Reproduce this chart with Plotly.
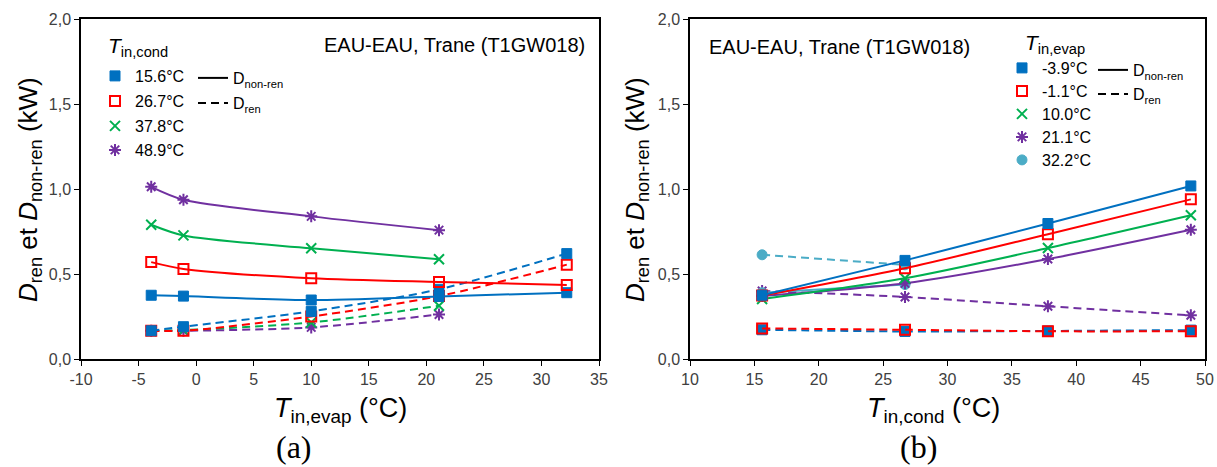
import plotly.graph_objects as go

# ---------------- data : panel (a) ----------------
t_evap = [-3.9, -1.1, 10.0, 21.1, 32.2]
cond_labels = ["15.6°C", "26.7°C", "37.8°C", "48.9°C"]
a_nonren_156 = [0.375, 0.37, 0.347, 0.368, 0.39]
a_ren_156 = [0.166, 0.19, 0.28, 0.41, 0.62]
a_nonren_267 = [0.57, 0.53, 0.475, 0.453, 0.436]
a_ren_267 = [0.166, 0.166, 0.25, 0.37, 0.555]
a_nonren_378 = [0.79, 0.727, 0.651, 0.587]
a_ren_378 = [0.166, 0.17, 0.215, 0.313]
a_nonren_489 = [1.013, 0.937, 0.839, 0.758]
a_ren_489 = [0.166, 0.166, 0.186, 0.262]

# ---------------- data : panel (b) ----------------
t_cond = [15.6, 26.7, 37.8, 48.9]
evap_labels = ["-3.9°C", "-1.1°C", "10.0°C", "21.1°C", "32.2°C"]
b_nonren_m39 = [0.375, 0.58, 0.797, 1.018]
b_ren_m39 = [0.172, 0.162, 0.165, 0.17]
b_nonren_m11 = [0.373, 0.534, 0.734, 0.939]
b_ren_m11 = [0.18, 0.172, 0.163, 0.163]
b_nonren_100 = [0.353, 0.475, 0.653, 0.846]
b_nonren_211 = [0.37, 0.445, 0.588, 0.76]
b_ren_211 = [0.40, 0.365, 0.31, 0.257]
b_nonren_322 = [0.39, 0.438]
b_ren_322 = [0.613, 0.554]

# tick labels
y_ticks = [0, 0.5, 1.0, 1.5, 2.0]
y_ticktext = ["0,0", "0,5", "1,0", "1,5", "2,0"]
xa_ticks = [-10, -5, 0, 5, 10, 15, 20, 25, 30, 35]
xb_ticks = [10, 15, 20, 25, 30, 35, 40, 45, 50]

BLUE, RED, GREEN, PURPLE, CYAN = "#0070C0", "#FF0000", "#00B050", "#7030A0", "#4BACC6"
W, H = 1217, 467

styles = {
    "blue": dict(color=BLUE, marker=dict(symbol="square", size=10, color=BLUE, line=dict(width=1, color=BLUE))),
    "red": dict(color=RED, marker=dict(symbol="square-open", size=10, color=RED, line=dict(width=2, color=RED))),
    "green": dict(color=GREEN, marker=dict(symbol="x-thin-open", size=10, color=GREEN, line=dict(width=2, color=GREEN))),
    "purple": dict(color=PURPLE, marker=dict(symbol="asterisk-open", size=10, color=PURPLE, line=dict(width=2, color=PURPLE))),
    "cyan": dict(color=CYAN, marker=dict(symbol="circle", size=10, color=CYAN, line=dict(width=1, color=CYAN))),
}

fig = go.Figure()


def add(x, y, key, dash, xa, ya):
    st = styles[key]
    fig.add_trace(go.Scatter(
        x=x, y=y, mode="lines+markers", xaxis=xa, yaxis=ya, showlegend=False,
        line=dict(color=st["color"], width=2, dash=dash, shape="spline", smoothing=0.8),
        marker=st["marker"], hoverinfo="skip"))


DASH = "8px,5px"
# panel (a)
add(t_evap, a_ren_489, "purple", DASH, "x", "y")
add(t_evap, a_ren_378, "green", DASH, "x", "y")
add(t_evap, a_ren_267, "red", DASH, "x", "y")
add(t_evap, a_ren_156, "blue", DASH, "x", "y")
add(t_evap, a_nonren_156, "blue", "solid", "x", "y")
add(t_evap, a_nonren_267, "red", "solid", "x", "y")
add(t_evap[:4], a_nonren_378, "green", "solid", "x", "y")
add(t_evap[:4], a_nonren_489, "purple", "solid", "x", "y")
# panel (b)
add(t_cond, b_ren_m39, "blue", DASH, "x2", "y2")
add(t_cond, b_ren_m11, "red", DASH, "x2", "y2")
add(t_cond, b_ren_211, "purple", DASH, "x2", "y2")
add(t_cond[:2], b_ren_322, "cyan", DASH, "x2", "y2")
add(t_cond[:2], b_nonren_322, "cyan", "solid", "x2", "y2")
add(t_cond, b_nonren_211, "purple", "solid", "x2", "y2")
add(t_cond, b_nonren_100, "green", "solid", "x2", "y2")
add(t_cond, b_nonren_m11, "red", "solid", "x2", "y2")
add(t_cond, b_nonren_m39, "blue", "solid", "x2", "y2")

FONT = "Liberation Sans, Arial, sans-serif"
LEGFONT = dict(family=FONT, size=16, color="black")

# one legend per entry so each can be placed precisely
legends = {}
counter = [0]


def legend_entry(name, px_left, px_y, marker=None, dash=None):
    counter[0] += 1
    lid = "legend" if counter[0] == 1 else f"legend{counter[0]}"
    if marker is not None:
        tr = go.Scatter(x=[None], y=[None], mode="markers", marker=marker, name=name, legend=lid)
    else:
        tr = go.Scatter(x=[None], y=[None], mode="lines", line=dict(color="black", width=2, dash=dash),
                        name=name, legend=lid)
    fig.add_trace(tr)
    legends[lid] = dict(x=px_left / W, y=1 - px_y / H, xanchor="left", yanchor="middle",
                        bgcolor="rgba(0,0,0,0)", font=LEGFONT, itemwidth=30)


for lab, key, py in zip(cond_labels, ["blue", "red", "green", "purple"], [76, 101, 126, 150]):
    legend_entry(lab, 95, py, marker=styles[key]["marker"])
legend_entry("D<sub>non-ren</sub>", 193, 78, dash="solid")
legend_entry("D<sub>ren</sub>", 193, 103, dash=DASH)
for lab, key, py in zip(evap_labels, ["blue", "red", "green", "purple", "cyan"], [68, 91, 114, 137, 160]):
    legend_entry(lab, 1002, py, marker=styles[key]["marker"])
legend_entry("D<sub>non-ren</sub>", 1093, 70, dash="solid")
legend_entry("D<sub>ren</sub>", 1093, 94, dash=DASH)

tickfont = dict(family=FONT, size=16, color="#404040")
yd = [1 - 359 / H, 1 - 19 / H]
axcommon = dict(showgrid=False, zeroline=False, showline=True, linecolor="black", linewidth=1.5,
                mirror=True, ticks="outside", ticklen=5, tickcolor="black", tickfont=tickfont,
                automargin=False)

fig.update_layout(
    width=W, height=H, margin=dict(l=0, r=0, t=0, b=0, pad=0, autoexpand=False),
    paper_bgcolor="white", plot_bgcolor="white", showlegend=True,
    xaxis=dict(domain=[81 / W, 599 / W], range=[-10, 35], tickvals=xa_ticks,
               ticktext=[str(v) for v in xa_ticks], anchor="y", **axcommon),
    yaxis=dict(domain=yd, range=[0, 2], tickvals=y_ticks, ticktext=y_ticktext, anchor="x", **axcommon),
    xaxis2=dict(domain=[690 / W, 1205 / W], range=[10, 50], tickvals=xb_ticks,
                ticktext=[str(v) for v in xb_ticks], anchor="y2", **axcommon),
    yaxis2=dict(domain=yd, range=[0, 2], tickvals=y_ticks, ticktext=y_ticktext, anchor="x2", **axcommon),
    **legends,
)

ann = []
for xp, anchor, yp in [(587, "right", 45), (707, "left", 47)]:
    ann.append(dict(text="EAU-EAU, Trane (T1GW018)", x=xp / W, y=1 - yp / H, xanchor=anchor, yanchor="middle",
                    xref="paper", yref="paper", showarrow=False, font=dict(family=FONT, size=20, color="black")))
for xp, yp, t in [(106, 47, "<i>T</i><sub>in,cond</sub>"), (1023, 44, "<i>T</i><sub>in,evap</sub>")]:
    ann.append(dict(text=t, x=xp / W, y=1 - yp / H, xanchor="left", yanchor="middle",
                    xref="paper", yref="paper", showarrow=False, font=dict(family=FONT, size=21, color="black")))
ytitle = "<i>D</i><sub>ren</sub> et <i>D</i><sub>non-ren</sub> (kW)"
for xc in [30, 637]:
    ann.append(dict(text=ytitle, x=xc / W, y=1 - 190 / H, textangle=-90, xref="paper", yref="paper",
                    showarrow=False, xanchor="center", yanchor="middle",
                    font=dict(family=FONT, size=26, color="black")))
for xc, t in [(340, "<i>T</i><sub>in,evap</sub> (°C)"), (934, "<i>T</i><sub>in,cond</sub> (°C)")]:
    ann.append(dict(text=t, x=xc / W, y=1 - 410 / H, xref="paper", yref="paper", showarrow=False,
                    xanchor="center", yanchor="middle", font=dict(family=FONT, size=27, color="black")))
for xc, t in [(294, "(a)"), (918, "(b)")]:
    ann.append(dict(text=t, x=xc / W, y=1 - 447 / H, xref="paper", yref="paper", showarrow=False,
                    xanchor="center", yanchor="middle",
                    font=dict(family="Liberation Serif, Times New Roman, serif", size=32, color="black")))
fig.update_layout(annotations=ann)

fig.write_html("out.html", config={"displayModeBar": False},
               post_script="document.body.style.margin='0';document.body.style.overflow='hidden';")
